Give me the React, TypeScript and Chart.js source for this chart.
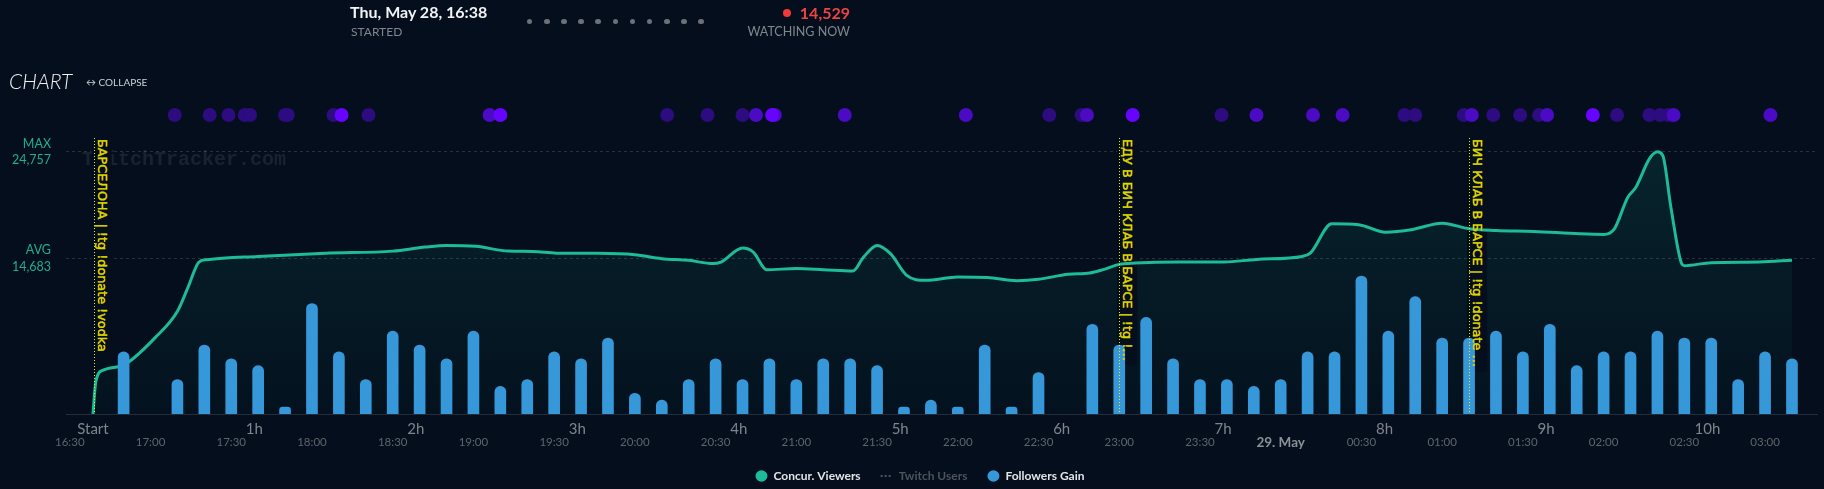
import React, { useEffect, useRef } from "react";
import { Chart, registerables } from "chart.js";

Chart.register(...registerables);

// ---------------- data ----------------
const AXIS_ORIGIN = "16:30";
const STREAM_START = "16:38:36";
const MAX_VIEWERS = 24757;
const AVG_VIEWERS = 14683;
const WATCHING_NOW = 14529;

const viewerTimes = [
  "16:38:36", "16:39:42", "16:42:24", "16:50", "17:02", "17:10", "17:14", "17:18", "17:21", "17:40",
  "18:05", "18:30", "18:42", "18:50", "19:01", "19:13", "19:22", "19:31", "19:46", "20:00",
  "20:10", "20:20", "20:29", "20:32", "20:40", "20:44", "20:49", "21:00", "21:10", "21:21",
  "21:25", "21:30", "21:35", "21:41", "21:48", "22:00", "22:11", "22:22", "22:30", "22:41",
  "22:49", "22:54", "23:00", "23:06", "23:22", "23:39", "23:51", "00:08", "00:11", "00:19",
  "00:29", "00:39", "00:49", "01:00", "01:10", "01:20", "01:34", "01:51", "02:00", "02:04",
  "02:09", "02:12", "02:17", "02:20", "02:22", "02:25", "02:29", "02:30", "02:40", "02:58",
  "03:10",
];
const viewerCounts = [
  0, 3100, 4140, 4620, 7280, 9700, 12000, 14350, 14570, 14880,
  15190, 15380, 15760, 15920, 15830, 15380, 15350, 15190, 15170, 15040,
  14670, 14510, 14200, 14350, 15670, 15290, 13630, 13730, 13630, 13500,
  14820, 15920, 15140, 13090, 12620, 12930, 12880, 12590, 12720, 13190,
  13310, 13630, 14130, 14250, 14350, 14350, 14600, 14880, 15190, 17960,
  17870, 17170, 17430, 18020, 17490, 17330, 17240, 17020, 16960, 17490,
  20470, 21410, 24090, 24757, 24400, 19530, 14200, 14010, 14290, 14350,
  14529,
];

const followerTimes = [
  "16:50", "17:00", "17:10", "17:20", "17:30", "17:40", "17:50",
  "18:00", "18:10", "18:20", "18:30", "18:40", "18:50",
  "19:00", "19:10", "19:20", "19:30", "19:40", "19:50",
  "20:00", "20:10", "20:20", "20:30", "20:40", "20:50",
  "21:00", "21:10", "21:20", "21:30", "21:40", "21:50",
  "22:00", "22:10", "22:20", "22:30", "22:40", "22:50",
  "23:00", "23:10", "23:20", "23:30", "23:40", "23:50",
  "00:00", "00:10", "00:20", "00:30", "00:40", "00:50",
  "01:00", "01:10", "01:20", "01:30", "01:40", "01:50",
  "02:00", "02:10", "02:20", "02:30", "02:40", "02:50",
  "03:00", "03:10",
];
const followerGains = [
  9, 0, 5, 10, 8, 7, 1,
  16, 9, 5, 12, 10, 8,
  12, 4, 5, 9, 8, 11,
  3, 2, 5, 8, 5, 8,
  5, 8, 8, 7, 1, 2,
  1, 10, 1, 6, 0, 13,
  10, 14, 8, 5, 5, 4,
  5, 9, 9, 20, 12, 17,
  11, 11, 12, 9, 13, 7,
  9, 9, 12, 11, 11, 5,
  9, 8,
];

const eventTimes = [
  "17:09", "17:22", "17:29", "17:35", "17:37", "17:50", "17:51", "18:08", "18:11", "18:21",
  "19:06", "19:10", "20:12", "20:27", "20:40", "20:45", "20:51", "20:52", "21:18", "22:03",
  "22:34", "22:46", "22:48", "23:05", "23:38", "23:51", "00:12", "00:23", "00:46", "00:50",
  "01:08", "01:11", "01:19", "01:29", "01:36", "01:39", "01:56", "02:05", "02:17", "02:21",
  "02:24", "02:26", "03:02",
];
const eventLevels = [
  1, 1, 1, 1, 1, 1, 1, 1, 3, 1,
  2, 3, 1, 1, 1, 2, 3, 2, 2, 2,
  1, 1, 2, 3, 1, 2, 2, 2, 1, 1,
  1, 2, 1, 1, 1, 2, 3, 1, 1, 1,
  1, 2, 2,
];

const hourLabels = ["Start", "1h", "2h", "3h", "4h", "5h", "6h", "7h", "8h", "9h", "10h"];
const clockLabels = [
  "16:30", "17:00", "17:30", "18:00", "18:30", "19:00", "19:30", "20:00", "20:30", "21:00", "21:30",
  "22:00", "22:30", "23:00", "23:30", "29. May", "00:30", "01:00", "01:30", "02:00", "02:30", "03:00",
];
const DATE_LABEL = "29. May";

const annotationTimes = ["16:38:51", "23:00", "01:10"];
const annotationTitles = [
  "БАРСЕЛОНА | !tg !donate !vodka",
  "ЕДУ В БИЧ КЛАБ В БАРСЕ | !tg !…",
  "БИЧ КЛАБ В БАРСЕ | !tg !donate …",
];

// ---------------- styling ----------------
const BG = "#040e1c";
const TEAL = "#1dbb9a";
const TEAL_TEXT = "#1faf90";
const BLUE = "#3798d9";
const EVENT_COLORS = ["#2c0c7e", "#4a0bc3", "#6604ff"];
const ANN_COLOR = "#d9d900";
const X_MIN = -1.41;
const X_MAX = 649.3;
const VIEWER_AXIS_MAX = 29650;
const BAR_AXIS_MAX = 45.5;
const EVENT_ROW = 0.952;
const LEGEND_SHIFT = 8;

function toMin(t: string): number {
  const [h, m, s] = t.split(":").map(Number);
  const [oh, om] = AXIS_ORIGIN.split(":").map(Number);
  let v = h * 60 + m + (s || 0) / 60 - (oh * 60 + om);
  if (v < -60) v += 1440;
  return v;
}

const fmt = (n: number) => n.toLocaleString("en-US");

export default function App() {
  const ref = useRef<HTMLCanvasElement | null>(null);

  useEffect(() => {
    document.body.style.margin = "0";
    document.body.style.background = BG;
    Chart.defaults.font.family = "Lato";

    const lineData = viewerTimes.map((t, i) => ({ x: toMin(t), y: viewerCounts[i] }));
    const barData = followerTimes
      .map((t, i) => ({ x: toMin(t), y: followerGains[i] }))
      .filter((d) => d.y > 0);
    const evOrder = eventTimes
      .map((_, i) => i)
      .sort((a, b) => eventLevels[a] - eventLevels[b] || a - b);
    const evData = evOrder.map((i) => ({ x: toMin(eventTimes[i]), y: EVENT_ROW }));
    const evColors = evOrder.map((i) => EVENT_COLORS[eventLevels[i] - 1]);
    const startMin = toMin(STREAM_START);

    const ANN_FONT = '12.8px "DejaVu Sans", Verdana, sans-serif';
    const annTop = (c: any) => c.chartArea.top + 38;

    const decor = {
      id: "streamDecor",
      afterLayout(c: any) {
        if (c.legend) {
          c.legend.left += LEGEND_SHIFT;
          c.legend.right += LEGEND_SHIFT;
        }
      },
      beforeDatasetsDraw(c: any) {
        const { ctx, chartArea } = c;
        ctx.save();
        ctx.font = 'bold 20px "Liberation Mono", "DejaVu Sans Mono", monospace';
        ctx.fillStyle = "rgba(190,200,215,0.11)";
        ctx.textBaseline = "alphabetic";
        ctx.fillText("TwitchTracker.com", chartArea.left + 16, chartArea.top + 65);
        ctx.restore();
      },
      beforeDatasetDraw(c: any, args: any) {
        if (args.index !== 0) return;
        const { ctx } = c;
        const top = annTop(c);
        ctx.save();
        ctx.font = ANN_FONT;
        annotationTimes.forEach((t, i) => {
          const x = c.scales.x.getPixelForValue(toMin(t));
          const w = ctx.measureText(annotationTitles[i]).width;
          ctx.fillStyle = BG;
          ctx.fillRect(x - 2, top - 2, 20, w + 7);
        });
        ctx.restore();
      },
      afterDatasetsDraw(c: any) {
        const { ctx, chartArea } = c;
        const top = annTop(c);
        annotationTimes.forEach((t, i) => {
          const x = Math.round(c.scales.x.getPixelForValue(toMin(t))) + 0.5;
          ctx.save();
          ctx.strokeStyle = "#eeee10";
          ctx.lineWidth = 1;
          ctx.setLineDash([1, 2]);
          ctx.beginPath();
          ctx.moveTo(x, top);
          ctx.lineTo(x, chartArea.bottom);
          ctx.stroke();
          ctx.setLineDash([]);
          ctx.translate(x + 3, top + 1);
          ctx.rotate(Math.PI / 2);
          ctx.font = ANN_FONT;
          ctx.textBaseline = "alphabetic";
          ctx.textAlign = "left";
          ctx.shadowColor = "rgba(190,40,0,0.5)";
          ctx.shadowOffsetX = 1;
          ctx.shadowOffsetY = 0;
          ctx.shadowBlur = 0;
          ctx.fillStyle = ANN_COLOR;
          ctx.fillText(annotationTitles[i], 0, 0);
          ctx.shadowColor = "rgba(0,0,0,0)";
          ctx.lineWidth = 0.45;
          ctx.strokeStyle = ANN_COLOR;
          ctx.strokeText(annotationTitles[i], 0, 0);
          ctx.restore();
        });
      },
    };

    const legendItems = [
      { text: "Concur. Viewers", fillStyle: TEAL, strokeStyle: TEAL, lineWidth: 0, pointStyle: "circle", fontColor: "#e2e5e8", hidden: false, datasetIndex: 0 },
      { text: "Twitch Users", fillStyle: "rgba(0,0,0,0)", strokeStyle: "#4c535b", lineWidth: 2, lineDash: [2, 2], pointStyle: "line", fontColor: "#4c535b", hidden: false },
      { text: "Followers Gain", fillStyle: BLUE, strokeStyle: BLUE, lineWidth: 0, pointStyle: "circle", fontColor: "#e2e5e8", hidden: false, datasetIndex: 1 },
    ];

    const chart = new Chart(ref.current as HTMLCanvasElement, {
      type: "bar",
      data: {
        datasets: [
          {
            type: "line",
            label: "Concur. Viewers",
            data: lineData,
            borderColor: TEAL,
            borderWidth: 3,
            pointRadius: 0,
            cubicInterpolationMode: "monotone",
            fill: "origin",
            backgroundColor: (ctx: any) => {
              const area = ctx.chart.chartArea;
              if (!area) return "rgba(29,187,154,0.07)";
              const g = ctx.chart.ctx.createLinearGradient(0, area.top, 0, area.bottom);
              g.addColorStop(0, "rgba(29,187,154,0.15)");
              g.addColorStop(1, "rgba(29,187,154,0.025)");
              return g;
            },
            xAxisID: "x",
            yAxisID: "y",
            order: 2,
          } as any,
          {
            type: "bar",
            label: "Followers Gain",
            data: barData,
            backgroundColor: BLUE,
            barThickness: 11,
            borderRadius: { topLeft: 6, topRight: 6, bottomLeft: 0, bottomRight: 0 },
            borderSkipped: "bottom",
            xAxisID: "x",
            yAxisID: "yBar",
            order: 1,
          } as any,
          {
            type: "scatter",
            label: "Events",
            data: evData,
            pointRadius: 7,
            pointBackgroundColor: evColors,
            pointBorderWidth: 0,
            showLine: false,
            xAxisID: "x",
            yAxisID: "yEv",
            order: 0,
          } as any,
        ],
      },
      options: {
        responsive: false,
        animation: false,
        events: [],
        layout: { padding: { top: 100, left: 0, right: 0, bottom: 0 } },
        plugins: {
          legend: {
            position: "bottom",
            onClick: () => {},
            labels: {
              usePointStyle: true,
              pointStyleWidth: 12,
              boxHeight: 8,
              padding: 20,
              font: { size: 12, weight: "bold" },
              generateLabels: () => legendItems as any,
            },
          },
          tooltip: { enabled: false },
        },
        scales: {
          x: {
            type: "linear",
            position: "bottom",
            min: X_MIN,
            max: X_MAX,
            offset: false,
            weight: 0,
            afterBuildTicks: (s: any) => {
              s.ticks = hourLabels.map((_, i) => ({ value: startMin + 60 * i }));
            },
            afterFit: (s: any) => {
              s.height = 21;
            },
            ticks: {
              autoSkip: false,
              maxRotation: 0,
              minRotation: 0,
              padding: 6,
              color: "#7f858c",
              font: { size: 15 },
              callback: (_v: any, i: number) => hourLabels[i],
            },
            grid: { display: false, drawTicks: false },
            border: { display: true, color: "#232d39", width: 1 },
          },
          x2: {
            type: "linear",
            position: "bottom",
            min: X_MIN,
            max: X_MAX,
            offset: false,
            weight: 1,
            afterBuildTicks: (s: any) => {
              s.ticks = clockLabels.map((_, i) => ({ value: 30 * i }));
            },
            afterFit: (s: any) => {
              s.height = 15;
            },
            ticks: {
              autoSkip: false,
              maxRotation: 0,
              minRotation: 0,
              padding: 0,
              color: (c: any) => (clockLabels[c.index] === DATE_LABEL ? "#8b9198" : "#5f656c"),
              font: (c: any) =>
                clockLabels[c.index] === DATE_LABEL ? { size: 13.5, weight: "bold" } : { size: 11.5 },
              callback: (_v: any, i: number) => clockLabels[i],
            },
            grid: { display: false, drawTicks: false },
            border: { display: false },
          },
          y: {
            type: "linear",
            position: "left",
            min: 0,
            max: VIEWER_AXIS_MAX,
            afterBuildTicks: (s: any) => {
              s.ticks = [{ value: AVG_VIEWERS }, { value: MAX_VIEWERS }];
            },
            afterFit: (s: any) => {
              s.width = 66;
            },
            ticks: {
              autoSkip: false,
              padding: 15,
              color: TEAL_TEXT,
              font: { size: 12.5, lineHeight: 1.3 },
              callback: (v: any) =>
                v === MAX_VIEWERS ? ["MAX", fmt(MAX_VIEWERS)] : ["AVG", fmt(AVG_VIEWERS)],
            },
            grid: { color: "rgba(255,255,255,0.14)", lineWidth: 1, drawTicks: false },
            border: { display: false, dash: [3, 3] },
          },
          yBar: { type: "linear", display: false, min: 0, max: BAR_AXIS_MAX },
          yEv: { type: "linear", display: false, min: 0, max: 1 },
        },
      } as any,
      plugins: [decor as any],
    });
    return () => chart.destroy();
  }, []);

  const grey = "#80868e";
  return (
    <div
      style={{
        position: "relative",
        width: 1824,
        height: 489,
        overflow: "hidden",
        background: BG,
        fontFamily: "Lato, sans-serif",
      }}
    >
      <canvas ref={ref} width={1824} height={492} style={{ position: "absolute", left: 0, top: 0 }} />
      <div style={{ position: "absolute", left: 350, top: 2, font: "bold 16px/20px Lato", color: "#f2f3f4", whiteSpace: "nowrap" }}>
        Thu, May 28, 16:38
      </div>
      <div style={{ position: "absolute", left: 351, top: 25, font: "12px/14px Lato", color: grey, whiteSpace: "nowrap" }}>
        STARTED
      </div>
      {Array.from({ length: 11 }).map((_, i) => (
        <span
          key={i}
          style={{
            position: "absolute",
            left: 526.8 + 17.14 * i,
            top: 18.9,
            width: 5.6,
            height: 5.6,
            borderRadius: "50%",
            background: "#6d7177",
          }}
        />
      ))}
      <span style={{ position: "absolute", left: 783.3, top: 9.3, width: 8, height: 8, borderRadius: "50%", background: "#f03a3a" }} />
      <div style={{ position: "absolute", left: 700, width: 150, top: 3, textAlign: "right", font: "bold 16px/20px Lato", color: "#ec4540", whiteSpace: "nowrap" }}>
        {fmt(WATCHING_NOW)}
      </div>
      <div style={{ position: "absolute", left: 700, width: 150, top: 25, textAlign: "right", font: "12.5px/14px Lato", color: grey, whiteSpace: "nowrap" }}>
        WATCHING NOW
      </div>
      <div style={{ position: "absolute", left: 9, top: 68, font: "italic 300 21px/26px Lato", color: "#f0f1f2", whiteSpace: "nowrap" }}>
        CHART
      </div>
      <div style={{ position: "absolute", left: 86, top: 75.5, font: "10px/12px Lato", color: "#cdd2d8", whiteSpace: "nowrap" }}>
        ↔ COLLAPSE
      </div>
    </div>
  );
}
